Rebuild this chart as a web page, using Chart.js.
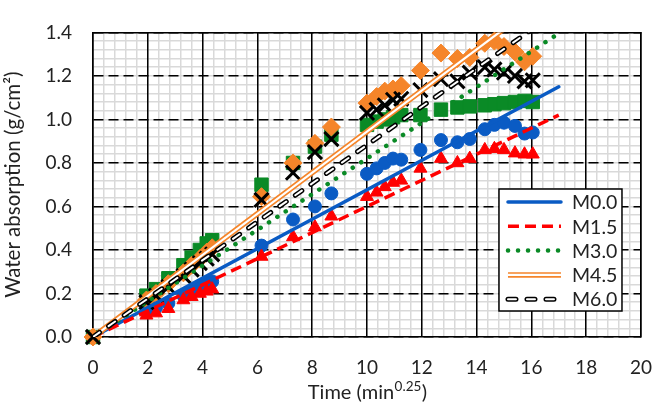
<!DOCTYPE html>
<html>
<head>
<meta charset="utf-8">
<script src="https://cdn.jsdelivr.net/npm/chart.js@4.4.1/dist/chart.umd.min.js"></script>
<style>
  html, body { margin: 0; padding: 0; background: #fff; }
</style>
</head>
<body>
<canvas id="absorptionChart" width="671" height="402"></canvas>
<script>
// sampling times, min^0.25
let time = [0, 1.95, 2.3, 2.75, 3.3, 3.6, 3.9, 4.15, 4.35, 6.15, 7.3, 8.1, 8.7,
  10.0, 10.35, 10.65, 10.95, 11.25, 11.95, 12.7, 13.3, 13.75, 14.3, 14.65, 15.0,
  15.4, 15.75, 16.05];

// water absorption, g/cm2
let m00 = [0, 0.12, 0.135, 0.155, 0.19, 0.21, 0.23, 0.25, 0.255, 0.42, 0.54, 0.60,
  0.66, 0.75, 0.775, 0.80, 0.82, 0.815, 0.86, 0.905, 0.895, 0.91, 0.955, 0.975,
  0.985, 0.97, 0.935, 0.94];
let m15 = [0, 0.10, 0.11, 0.13, 0.17, 0.185, 0.20, 0.21, 0.22, 0.37, 0.46, 0.505,
  0.555, 0.645, 0.665, 0.69, 0.71, 0.72, 0.775, 0.82, 0.80, 0.82, 0.86, 0.865,
  0.86, 0.845, 0.84, 0.84];
let m30 = [0, 0.19, 0.22, 0.27, 0.33, 0.365, 0.40, 0.43, 0.445, 0.70, 0.80, 0.875,
  0.93, 0.975, 0.99, 1.0, 1.01, 1.02, 1.02, 1.045, 1.055, 1.06, 1.065, 1.07,
  1.075, 1.08, 1.085, 1.08];
let m45 = [0, 0.17, 0.20, 0.245, 0.295, 0.33, 0.36, 0.39, 0.41, 0.645, 0.80, 0.89,
  0.965, 1.075, 1.105, 1.13, 1.14, 1.155, 1.225, 1.305, 1.28, 1.285, 1.35, 1.36,
  1.335, 1.31, 1.265, 1.29];
let m60 = [0, 0.16, 0.19, 0.23, 0.28, 0.31, 0.34, 0.36, 0.38, 0.63, 0.755, 0.85,
  0.91, 1.03, 1.045, 1.065, 1.09, 1.095, 1.135, 1.185, 1.175, 1.215, 1.24, 1.23,
  1.215, 1.20, 1.175, 1.18];

// linear trend lines (end points)
let fitTime = [0, 17];
let fitM00 = [0, 1.15];
let fitM15 = [0, 1.02];
let fitM30 = [0, 1.395];
let fitM45 = [0, 1.605];
let fitM60 = [0, 1.5];

let xTickLabels = ["0", "2", "4", "6", "8", "10", "12", "14", "16", "18", "20"];
let yTickLabels = ["0.0", "0.2", "0.4", "0.6", "0.8", "1.0", "1.2", "1.4"];

const BLUE = "#0a5bc4";
const RED = "#ff0000";
const GREEN = "#0a8a26";
const ORANGE = "#f5852a";
const FONT = "Lato";
const TEXT = "#222";

function pts(xs, ys) {
  return xs.map((x, i) => ({ x: x, y: ys[i] }));
}

function markers(ys, style, color, radius, order) {
  return {
    type: "scatter",
    data: pts(time, ys),
    pointStyle: style,
    pointRadius: radius,
    pointHoverRadius: radius,
    backgroundColor: color,
    borderColor: color,
    borderWidth: style === "crossRot" ? 3 : 1,
    clip: false,
    order: order,
    inLegend: false,
  };
}

function fit(label, ys, color, width, dash, cap, order, inLegend) {
  return {
    type: "scatter",
    label: label,
    data: pts(fitTime, ys),
    showLine: true,
    pointRadius: 0,
    pointHoverRadius: 0,
    borderColor: color,
    backgroundColor: color,
    borderWidth: width,
    borderDash: dash,
    borderCapStyle: cap,
    clip: 0,
    order: order,
    inLegend: inLegend,
  };
}

let datasets = [
  fit("M0.0", fitM00, BLUE, 3.5, [], "round", 4, true),
  fit("M1.5", fitM15, RED, 3.5, [11, 6], "butt", 3, true),
  fit("M3.0", fitM30, GREEN, 4.5, [0.1, 9.9], "round", 2, true),
  fit("M4.5", fitM45, ORANGE, 5.5, [], "butt", 1.5, true),
  fit("M4.5 inner", fitM45, "#ffffff", 2.2, [], "butt", 1.4, false),
  fit("M6.0", fitM60, "#000000", 5, [8, 11], "round", 1, true),
  fit("M6.0 inner", fitM60, "#ffffff", 2, [8, 11], "round", 0.9, false),
  markers(m60, "crossRot", "#000000", 10, 5),
  markers(m45, "rectRot", ORANGE, 9, 6),
  markers(m30, "rect", GREEN, 9.5, 7),
  markers(m15, "triangle", RED, 7.5, 8),
  markers(m00, "circle", BLUE, 6.5, 9),
];

// inner white strokes that make the double lines in the legend
let legendInner = { "M4.5": "M4.5 inner", "M6.0": "M6.0 inner" };

function strokeSample(ctx, ds, x1, x2, y) {
  ctx.beginPath();
  ctx.strokeStyle = ds.borderColor;
  ctx.lineWidth = ds.borderWidth;
  ctx.setLineDash(ds.borderDash || []);
  ctx.lineCap = ds.borderCapStyle || "butt";
  ctx.moveTo(x1, y);
  ctx.lineTo(x2, y);
  ctx.stroke();
}

const extras = {
  id: "extras",
  afterDraw(chart) {
    const ctx = chart.ctx;
    const area = chart.chartArea;
    ctx.save();

    // x axis title with the exponent raised
    const big = "20px " + FONT;
    const small = "13.5px " + FONT;
    ctx.fillStyle = TEXT;
    ctx.textBaseline = "alphabetic";
    ctx.textAlign = "left";
    ctx.font = big;
    const w1 = ctx.measureText("Time (min").width;
    const w3 = ctx.measureText(")").width;
    ctx.font = small;
    const w2 = ctx.measureText("0.25").width;
    let x = (area.left + area.right) / 2 - (w1 + w2 + w3) / 2;
    const base = area.bottom + 62;
    ctx.font = big;
    ctx.fillText("Time (min", x, base);
    ctx.font = small;
    ctx.fillText("0.25", x + w1 + 0.5, base - 8);
    ctx.font = big;
    ctx.fillText(")", x + w1 + w2 + 1, base);

    // legend box inside the plot
    const bx = area.right - 142;
    const by = area.bottom - 148;
    const bw = 123;
    const bh = 122;
    ctx.fillStyle = "#ffffff";
    ctx.fillRect(bx, by, bw, bh);
    ctx.setLineDash([]);
    ctx.lineWidth = 1.5;
    ctx.strokeStyle = "#000000";
    ctx.strokeRect(bx, by, bw, bh);

    const all = chart.data.datasets;
    const entries = all.filter((d) => d.inLegend);
    entries.forEach((ds, i) => {
      const y = by + 13 + i * 24.3;
      strokeSample(ctx, ds, bx + 9, bx + 62, y);
      const innerLabel = legendInner[ds.label];
      if (innerLabel) {
        const inner = all.find((d) => d.label === innerLabel);
        strokeSample(ctx, inner, bx + 9, bx + 62, y);
      }
      ctx.setLineDash([]);
      ctx.fillStyle = TEXT;
      ctx.font = "19.5px " + FONT;
      ctx.textBaseline = "middle";
      ctx.fillText(ds.label, bx + 73, y + 1);
    });
    ctx.restore();
  },
};

new Chart(document.getElementById("absorptionChart"), {
  type: "scatter",
  data: { datasets: datasets },
  plugins: [extras],
  options: {
    responsive: false,
    animation: false,
    events: [],
    layout: { padding: { left: 0, right: 13, top: 22, bottom: 0 } },
    plugins: {
      legend: { display: false },
      tooltip: { enabled: false },
    },
    scales: {
      x: {
        type: "linear",
        position: "bottom",
        min: 0,
        max: 20,
        afterFit: (s) => { s.height = 65; },
        ticks: {
          stepSize: 2,
          padding: 19,
          color: TEXT,
          font: { family: FONT, size: 19 },
          callback: (v, i) => xTickLabels[i],
        },
        grid: { color: "#000000", lineWidth: 1.5, drawTicks: false },
        border: { color: "#000000", width: 1.5 },
      },
      y: {
        type: "linear",
        position: "left",
        min: 0,
        max: 1.4,
        afterFit: (s) => { s.width = 93; },
        ticks: {
          stepSize: 0.2,
          padding: 21,
          color: TEXT,
          font: { family: FONT, size: 19 },
          callback: (v, i) => yTickLabels[i],
        },
        grid: { color: "#000000", lineWidth: 1.5, drawTicks: false },
        border: { color: "#000000", width: 1.5, dash: [10, 5] },
        title: {
          display: true,
          text: "Water absorption (g/cm²)",
          color: TEXT,
          font: { family: FONT, size: 20.5 },
          padding: { top: 1, bottom: 0 },
        },
      },
      xMinor: {
        type: "linear",
        position: "top",
        min: 0,
        max: 20,
        afterFit: (s) => { s.height = 0; },
        ticks: { display: false, stepSize: 0.4, autoSkip: false },
        grid: { color: "#d9d9d9", lineWidth: 1.5, drawTicks: false, z: -2 },
        border: { color: "#000000", width: 1.5 },
      },
      yMinor: {
        type: "linear",
        position: "right",
        min: 0,
        max: 1.4,
        afterFit: (s) => { s.width = 0; },
        ticks: { display: false, stepSize: 0.04, autoSkip: false },
        grid: { color: "#d9d9d9", lineWidth: 1.5, drawTicks: false, z: -2 },
        border: { color: "#000000", width: 1.5 },
      },
    },
  },
});
</script>
</body>
</html>
